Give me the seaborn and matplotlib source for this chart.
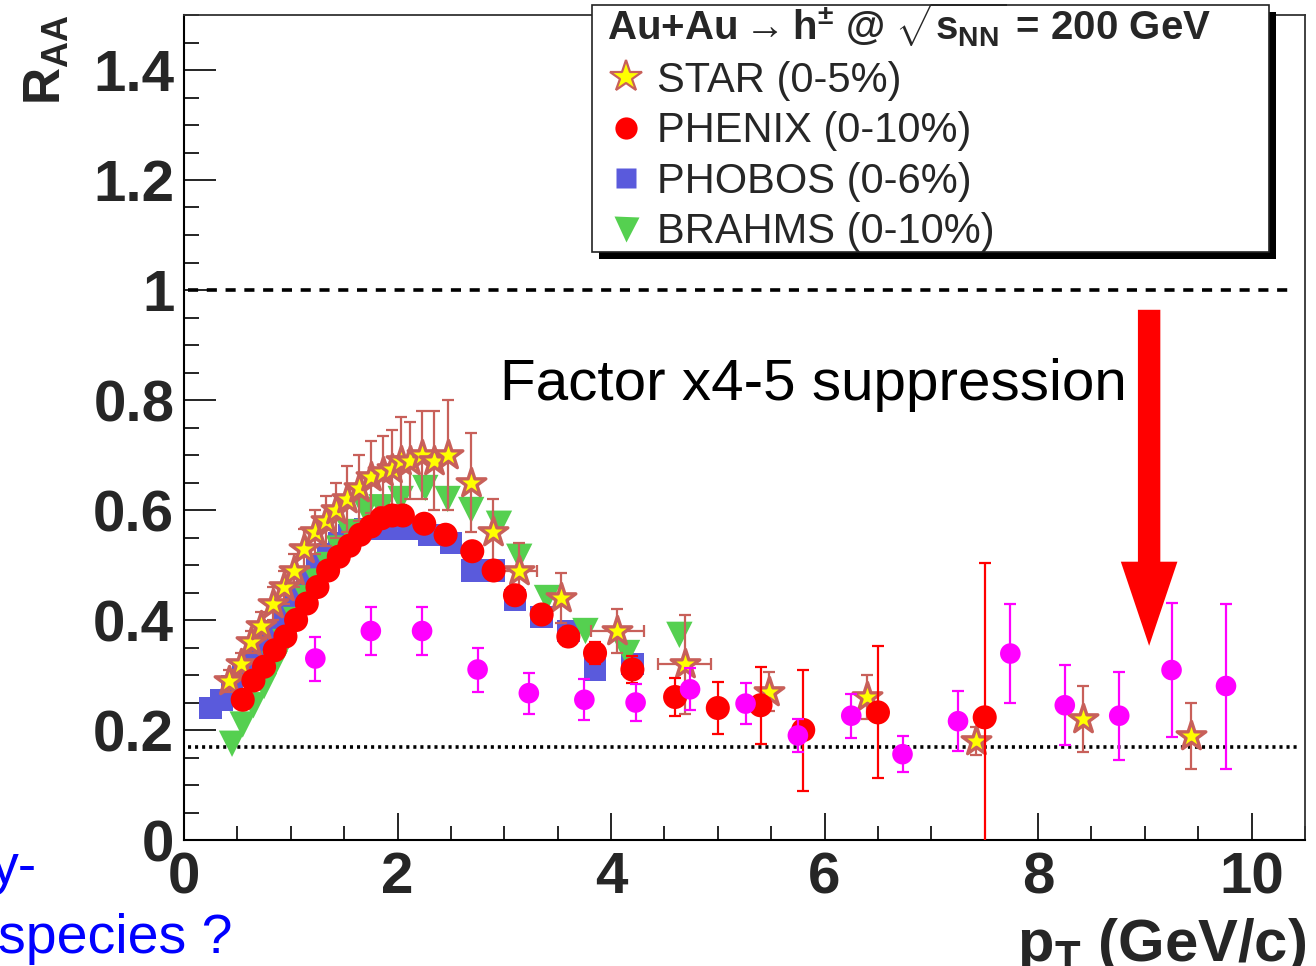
import matplotlib
matplotlib.use("Agg")
import matplotlib.pyplot as plt
import seaborn as sns
import pandas as pd
from matplotlib.lines import Line2D
from matplotlib.patches import Rectangle
from matplotlib.ticker import MultipleLocator, FixedLocator, FuncFormatter

# ---------------- data: nuclear modification factor of charged hadrons ----------------
# STAR (0-5%)
star_pt = [0.42, 0.53, 0.625, 0.72, 0.83, 0.94, 1.03, 1.125, 1.23, 1.33, 1.42, 1.53,
           1.64, 1.75, 1.86, 1.95, 2.03, 2.12, 2.23, 2.34, 2.47, 2.69, 2.89, 3.14,
           3.53, 4.06, 4.69, 5.48, 6.40, 7.42, 8.42, 9.43]
star_raa = [0.29, 0.32, 0.36, 0.39, 0.43, 0.46, 0.49, 0.53, 0.56, 0.58, 0.60, 0.62,
            0.64, 0.66, 0.67, 0.675, 0.69, 0.69, 0.70, 0.69, 0.70, 0.65, 0.56, 0.49,
            0.44, 0.38, 0.32, 0.27, 0.26, 0.18, 0.22, 0.19]
star_err = [0.02, 0.02, 0.02, 0.025, 0.03, 0.03, 0.03, 0.035, 0.04, 0.045, 0.05, 0.06,
            0.06, 0.065, 0.065, 0.07, 0.08, 0.07, 0.08, 0.09, 0.10, 0.09, 0.06, 0.05,
            0.045, 0.04, 0.09, 0.035, 0.04, 0.025, 0.06, 0.06]
star_pt_err = [0, 0, 0, 0, 0, 0, 0, 0, 0, 0, 0, 0,
               0, 0, 0, 0, 0, 0, 0, 0, 0, 0, 0, 0.17,
               0, 0.25, 0.25, 0, 0, 0, 0, 0]

# PHENIX (0-10%)
phenix_pt = [0.55, 0.65, 0.75, 0.85, 0.95, 1.05, 1.15, 1.25, 1.35, 1.45, 1.55, 1.65,
             1.75, 1.85, 1.95, 2.05, 2.25, 2.45, 2.7, 2.9, 3.1, 3.35, 3.6, 3.85,
             4.2, 4.6, 5.0, 5.4, 5.8, 6.5, 7.5]
phenix_raa = [0.255, 0.29, 0.315, 0.345, 0.37, 0.40, 0.43, 0.46, 0.49, 0.515, 0.535, 0.555,
              0.57, 0.585, 0.59, 0.59, 0.575, 0.555, 0.525, 0.49, 0.445, 0.41, 0.37, 0.34,
              0.31, 0.26, 0.24, 0.245, 0.20, 0.232, 0.223]
phenix_err = [0.01, 0.01, 0.01, 0.01, 0.01, 0.01, 0.01, 0.01, 0.01, 0.01, 0.01, 0.01,
              0.01, 0.01, 0.01, 0.01, 0.012, 0.012, 0.012, 0.015, 0.015, 0.015, 0.018, 0.02,
              0.025, 0.034, 0.048, 0.07, 0.11, 0.12, 0.28]

# PHOBOS (0-6%)
phobos_pt = [0.25, 0.35, 0.45, 0.55, 0.65, 0.75, 0.85, 0.95, 1.05, 1.15, 1.25, 1.35,
             1.45, 1.55, 1.7, 1.9, 2.1, 2.3, 2.5, 2.7, 2.9, 3.1, 3.35, 3.6, 3.85, 4.2]
phobos_raa = [0.24, 0.255, 0.28, 0.30, 0.325, 0.355, 0.38, 0.415, 0.445, 0.47, 0.50, 0.52,
              0.54, 0.555, 0.565, 0.565, 0.565, 0.555, 0.54, 0.49, 0.49, 0.436, 0.406, 0.38,
              0.31, 0.32]

# BRAHMS (0-10%)
brahms_pt = [0.45, 0.55, 0.65, 0.75, 0.85, 0.95, 1.05, 1.15, 1.25, 1.35, 1.45, 1.55,
             1.7, 1.85, 2.03, 2.26, 2.47, 2.69, 2.95, 3.14, 3.40, 3.76, 4.15, 4.64]
brahms_raa = [0.175, 0.21, 0.245, 0.28, 0.32, 0.36, 0.40, 0.44, 0.47, 0.50, 0.53, 0.56,
              0.60, 0.605, 0.62, 0.64, 0.62, 0.60, 0.575, 0.515, 0.44, 0.38, 0.34, 0.373]

# additional charged-hadron measurement (magenta, no legend entry)
extra_pt = [1.23, 1.75, 2.23, 2.75, 3.23, 3.75, 4.23, 4.74, 5.26, 5.75, 6.25, 6.73,
            7.25, 7.74, 8.25, 8.76, 9.25, 9.76]
extra_raa = [0.33, 0.38, 0.38, 0.31, 0.267, 0.255, 0.25, 0.274, 0.248, 0.19, 0.226, 0.156,
             0.216, 0.339, 0.245, 0.226, 0.309, 0.28]
extra_err = [0.04, 0.043, 0.043, 0.04, 0.037, 0.037, 0.033, 0.038, 0.037, 0.03, 0.04, 0.033,
             0.055, 0.09, 0.073, 0.08, 0.122, 0.15]

legend_labels = ["STAR (0-5%)", "PHENIX (0-10%)", "PHOBOS (0-6%)", "BRAHMS (0-10%)"]
x_ticks = [0, 2, 4, 6, 8, 10]
y_ticks = [0, 0.2, 0.4, 0.6, 0.8, 1.0, 1.2, 1.4]
unity_level = 1.0
suppressed_level = 0.17

# ---------------- style ----------------
sns.set_theme(style="white")
plt.rcParams["font.family"] = ["Liberation Sans", "DejaVu Sans"]
plt.rcParams["mathtext.fontset"] = "custom"
plt.rcParams["mathtext.rm"] = "Liberation Sans:bold"
plt.rcParams["mathtext.it"] = "Liberation Sans:bold"
plt.rcParams["mathtext.bf"] = "Liberation Sans:bold"
plt.rcParams["mathtext.sf"] = "Liberation Sans:bold"

W, H = 1316, 966
fig = plt.figure(figsize=(W / 100, H / 100), dpi=100)
fig.patch.set_facecolor("white")


def fpos(px, py):
    """pixel position (from top-left) -> figure fraction"""
    return px / W, 1 - py / H


ax = fig.add_axes([184 / W, 126 / H, (1305 - 184) / W, (951 - 126) / H])
ax.set_facecolor("white")

c_star_face = "#ffff00"
c_star_edge = "#c8605a"
c_red = "#ff0000"
c_blue = "#5a5adc"
c_green = "#55d050"
c_mag = "#ff00ff"

df_star = pd.DataFrame({"pt": star_pt, "raa": star_raa})
df_phenix = pd.DataFrame({"pt": phenix_pt, "raa": phenix_raa})
df_phobos = pd.DataFrame({"pt": phobos_pt, "raa": phobos_raa})
df_brahms = pd.DataFrame({"pt": brahms_pt, "raa": brahms_raa})
df_extra = pd.DataFrame({"pt": extra_pt, "raa": extra_raa})

# PHOBOS squares (bottom layer)
sns.scatterplot(data=df_phobos, x="pt", y="raa", marker="s", s=260, color=c_blue,
                edgecolor="none", linewidth=0, ax=ax, zorder=3, legend=False)
# BRAHMS triangles
sns.scatterplot(data=df_brahms, x="pt", y="raa", marker="v", s=360, color=c_green,
                edgecolor="none", linewidth=0, ax=ax, zorder=3.2, legend=False)
# STAR stars with error bars
ax.errorbar(star_pt, star_raa, yerr=star_err, xerr=star_pt_err, fmt="none",
            ecolor=c_star_edge, elinewidth=1.6, capsize=4, capthick=1.6, zorder=3.3)
sns.scatterplot(data=df_star, x="pt", y="raa", marker="*", s=470, color=c_star_face,
                edgecolor=c_star_edge, linewidth=2.4, ax=ax, zorder=3.4, legend=False)
# PHENIX circles
ax.errorbar(phenix_pt, phenix_raa, yerr=phenix_err, fmt="none",
            ecolor=c_red, elinewidth=1.6, capsize=4, capthick=1.6, zorder=3.5)
sns.scatterplot(data=df_phenix, x="pt", y="raa", marker="o", s=300, color=c_red,
                edgecolor="none", linewidth=0, ax=ax, zorder=3.6, legend=False)
# magenta circles
ax.errorbar(extra_pt, extra_raa, yerr=extra_err, fmt="none",
            ecolor=c_mag, elinewidth=1.6, capsize=4, capthick=1.6, zorder=3.7)
sns.scatterplot(data=df_extra, x="pt", y="raa", marker="o", s=220, color=c_mag,
                edgecolor="none", linewidth=0, ax=ax, zorder=3.8, legend=False)

# reference levels
ax.axhline(unity_level, color="black", lw=2.6, ls=(0, (2.8, 2.4)), dash_capstyle="butt",
           xmin=0.004, xmax=0.99, zorder=2)
ax.axhline(suppressed_level, color="black", lw=2.6, ls=(0, (0.85, 1.1)),
           dash_capstyle="butt", xmin=0.004, xmax=0.995, zorder=2)

# suppression arrow
ax.arrow(9.04, 0.964, 0, 0.353 - 0.964, width=0.21, head_width=0.53, head_length=0.153,
         length_includes_head=True, color="red", lw=0, zorder=5)

# ---------------- axes ----------------
ax.set_xlim(0, 10.5)
ax.set_ylim(0, 1.5)
ax.xaxis.set_major_locator(FixedLocator(x_ticks))
ax.yaxis.set_major_locator(FixedLocator(y_ticks))
ax.xaxis.set_minor_locator(MultipleLocator(0.5))
ax.yaxis.set_minor_locator(MultipleLocator(0.05))
ax.xaxis.set_major_formatter(FuncFormatter(lambda v, p: f"{v:g}"))
ax.yaxis.set_major_formatter(FuncFormatter(lambda v, p: f"{v:g}"))
ax.tick_params(axis="both", which="both", direction="in", top=False, right=False,
               bottom=True, left=True, color="black", width=1.2)
ax.tick_params(axis="x", which="major", length=19.5, pad=8, labelsize=42)
ax.tick_params(axis="x", which="minor", length=10)
ax.tick_params(axis="y", which="major", length=23, pad=7, labelsize=42)
ax.tick_params(axis="y", which="minor", length=11)
for lab in ax.get_xticklabels() + ax.get_yticklabels():
    lab.set_fontweight("bold")
for side in ["left", "bottom"]:
    ax.spines[side].set_linewidth(1.5)
    ax.spines[side].set_color("black")
for side in ["top", "right"]:
    ax.spines[side].set_linewidth(1.3)
    ax.spines[side].set_color("#333333")
ax.set_xlabel("")
ax.set_ylabel("")

# axis titles
fig.text(*fpos(47, 14), r"$\mathrm{R}_{\mathrm{AA}}$", rotation=90, ha="center",
         va="top", fontsize=37, fontweight="bold")
fig.text(*fpos(1306, 961), r"$\mathrm{p}_{\mathrm{T}}$ (GeV/c)", ha="right",
         va="baseline", fontsize=43, fontweight="bold")

# annotation texts
fig.text(*fpos(500, 400), "Factor x4-5 suppression", ha="left", va="baseline",
         fontsize=42, color="black", zorder=6)
fig.text(*fpos(37, 883), "y-", ha="right", va="baseline", fontsize=40, color="#0000ff")
fig.text(*fpos(-2, 953), "species ?", ha="left", va="baseline", fontsize=40,
         color="#0000ff")

# ---------------- legend box ----------------
bx0, by0, bx1, by1 = 592, 5, 1269, 252
fig.patches.append(Rectangle(fpos(bx0 + 7, by1 + 7), (bx1 - bx0) / W, (by1 - by0) / H,
                             transform=fig.transFigure, facecolor="black",
                             edgecolor="none", zorder=4))
fig.patches.append(Rectangle(fpos(bx0, by1), (bx1 - bx0) / W, (by1 - by0) / H,
                             transform=fig.transFigure, facecolor="white",
                             edgecolor="#222222", lw=1.2, zorder=4.1))
fig.text(*fpos(607, 40),
         "Au+Au$\\rightarrow$h$^{\\pm}$ @ $\\sqrt{\\mathrm{s}_{\\mathrm{NN}}}$ = 200 GeV",
         ha="left", va="baseline", fontsize=29, fontweight="bold", zorder=6)

handles = [
    Line2D([], [], ls="none", marker="*", ms=24, mfc=c_star_face, mec=c_star_edge, mew=1.6),
    Line2D([], [], ls="none", marker="o", ms=16, mfc=c_red, mec="none"),
    Line2D([], [], ls="none", marker="s", ms=14, mfc=c_blue, mec="none"),
    Line2D([], [], ls="none", marker="v", ms=18, mfc=c_green, mec="none"),
]
leg = fig.legend(handles, legend_labels, loc="upper left",
                 bbox_to_anchor=fpos(605, 61), bbox_transform=fig.transFigure,
                 frameon=False, fontsize=30, handlelength=1.0, handletextpad=0.25,
                 labelspacing=0.25, borderpad=0, borderaxespad=0)
leg.set_zorder(6)

fig.savefig("out.png", dpi=100, facecolor="white")
